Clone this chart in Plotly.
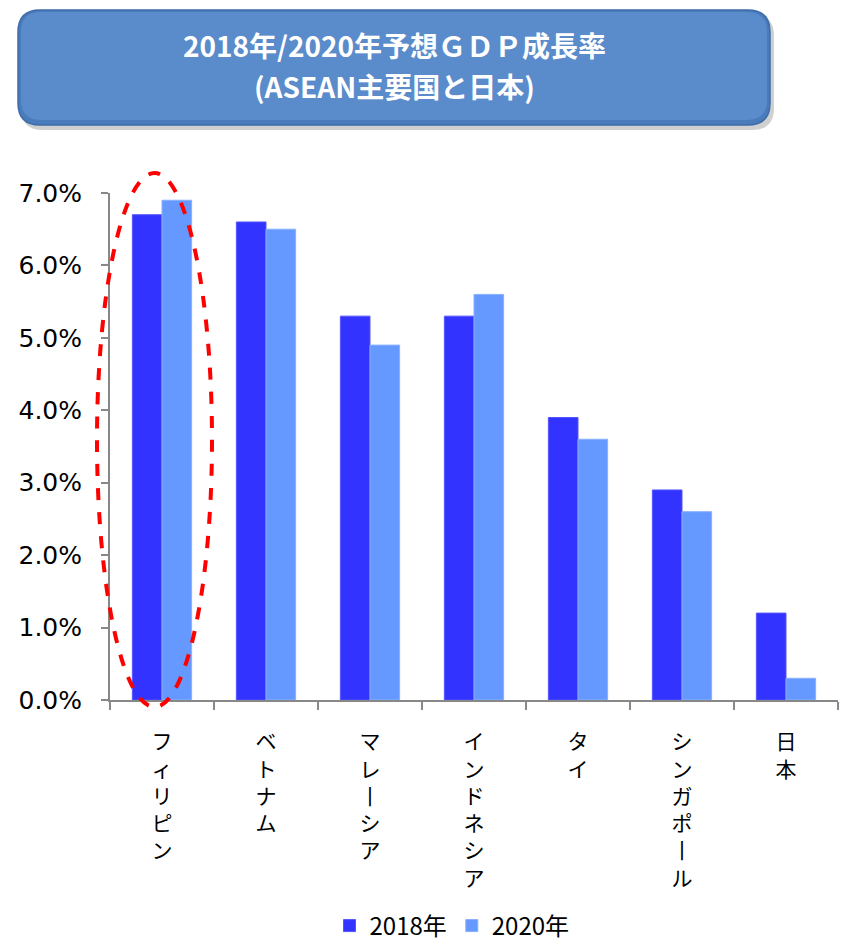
import plotly.graph_objects as go

countries = ["フィリピン", "ベトナム", "マレーシア", "インドネシア", "タイ", "シンガポール", "日本"]
growth_2018 = [6.7, 6.6, 5.3, 5.3, 3.9, 2.9, 1.2]
growth_2020 = [6.9, 6.5, 4.9, 5.6, 3.6, 2.6, 0.3]
series_names = ["2018年", "2020年"]
y_ticks = [0, 1, 2, 3, 4, 5, 6, 7]
y_tick_labels = ["0.0%", "1.0%", "2.0%", "3.0%", "4.0%", "5.0%", "6.0%", "7.0%"]
title_lines = ["2018年/2020年予想ＧＤＰ成長率", "(ASEAN主要国と日本)"]

W, H = 847, 946
L, R, T, B = 110, 9, 193, 246
PW, PH = W - L - R, H - T - B


def px(x):
    return (x - L) / PW


def py(y):
    return (H - B - y) / PH


def vertical(s):
    return "<br>".join("丨" if c == "ー" else c for c in s)


fig = go.Figure()
fig.add_trace(go.Bar(x=countries, y=growth_2018, name=series_names[0],
                     marker=dict(color="#3333FF", line=dict(color="#5555FF", width=1))))
fig.add_trace(go.Bar(x=countries, y=growth_2020, name=series_names[1],
                     marker=dict(color="#6699FF", line=dict(color="#88B0FF", width=1))))


def rounded_path(x0, y0, x1, y1, r):
    pts = [
        ("M", [(x0 + r, y0)]),
        ("L", [(x1 - r, y0)]),
        ("Q", [(x1, y0), (x1, y0 + r)]),
        ("L", [(x1, y1 - r)]),
        ("Q", [(x1, y1), (x1 - r, y1)]),
        ("L", [(x0 + r, y1)]),
        ("Q", [(x0, y1), (x0, y1 - r)]),
        ("L", [(x0, y0 + r)]),
        ("Q", [(x0, y0), (x0 + r, y0)]),
    ]
    out = []
    for cmd, ps in pts:
        out.append(cmd + " ".join(f"{px(a):.5f},{py(b):.5f}" for a, b in ps))
    return " ".join(out) + " Z"


shapes = []
shapes.append(dict(type="path", xref="paper", yref="paper", path=rounded_path(21, 14, 774, 130, 22),
                   fillcolor="rgba(120,120,120,0.35)", line=dict(width=0), layer="above"))
shapes.append(dict(type="path", xref="paper", yref="paper", path=rounded_path(18, 10, 770, 125, 22),
                   fillcolor="#4A7BBB", line=dict(color="#3D6CA8", width=1.5), layer="above"))
shapes.append(dict(type="path", xref="paper", yref="paper", path=rounded_path(21, 12, 767, 120, 20),
                   fillcolor="#5A8BCB", line=dict(width=0), layer="above"))
shapes.append(dict(type="circle", xref="paper", yref="paper",
                   x0=px(97), x1=px(212), y0=py(707), y1=py(173),
                   line=dict(color="#FF0000", width=4, dash="dash"), layer="above"))

annotations = [
    dict(text=f"<b>{title_lines[0]}</b>", xref="paper", yref="paper", x=px(394), y=py(45),
         showarrow=False, xanchor="center", yanchor="middle",
         font=dict(family="Noto Sans CJK JP", size=28, color="white")),
    dict(text=f"<b>{title_lines[1]}</b>", xref="paper", yref="paper", x=px(394), y=py(86),
         showarrow=False, xanchor="center", yanchor="middle",
         font=dict(family="Noto Sans CJK JP", size=28, color="white")),
]

fig.update_layout(
    width=W, height=H,
    margin=dict(l=L, r=R, t=T, b=B, pad=0, autoexpand=False),
    paper_bgcolor="white", plot_bgcolor="white",
    barmode="group", bargap=0.43, bargroupgap=0,
    shapes=shapes, annotations=annotations,
    showlegend=True,
    legend=dict(orientation="h", x=px(452), y=py(926), xanchor="center", yanchor="middle",
                font=dict(family="Noto Sans CJK JP", size=24, color="#000000"),
                tracegroupgap=0),
    font=dict(family="Noto Sans CJK JP", color="#000000"),
)

fig.update_xaxes(
    tickmode="array", tickvals=countries, ticktext=[vertical(c) for c in countries],
    tickson="boundaries", ticks="outside", ticklen=8, tickcolor="#888888", tickwidth=2,
    showline=True, linecolor="#888888", linewidth=2,
    tickangle=0, ticklabelstandoff=22,
    tickfont=dict(family="Noto Sans CJK JP", size=21, color="#000000"),
    showgrid=False, zeroline=False,
)
fig.update_yaxes(
    range=[0, 7], tickmode="array", tickvals=y_ticks, ticktext=y_tick_labels,
    ticks="outside", ticklen=7, tickcolor="#888888", tickwidth=2,
    showline=True, linecolor="#888888", linewidth=2,
    tickfont=dict(family="DejaVu Sans", size=25, color="#000000"),
    showgrid=False, zeroline=False, ticklabelstandoff=14,
)

fig.write_html("out.html")
